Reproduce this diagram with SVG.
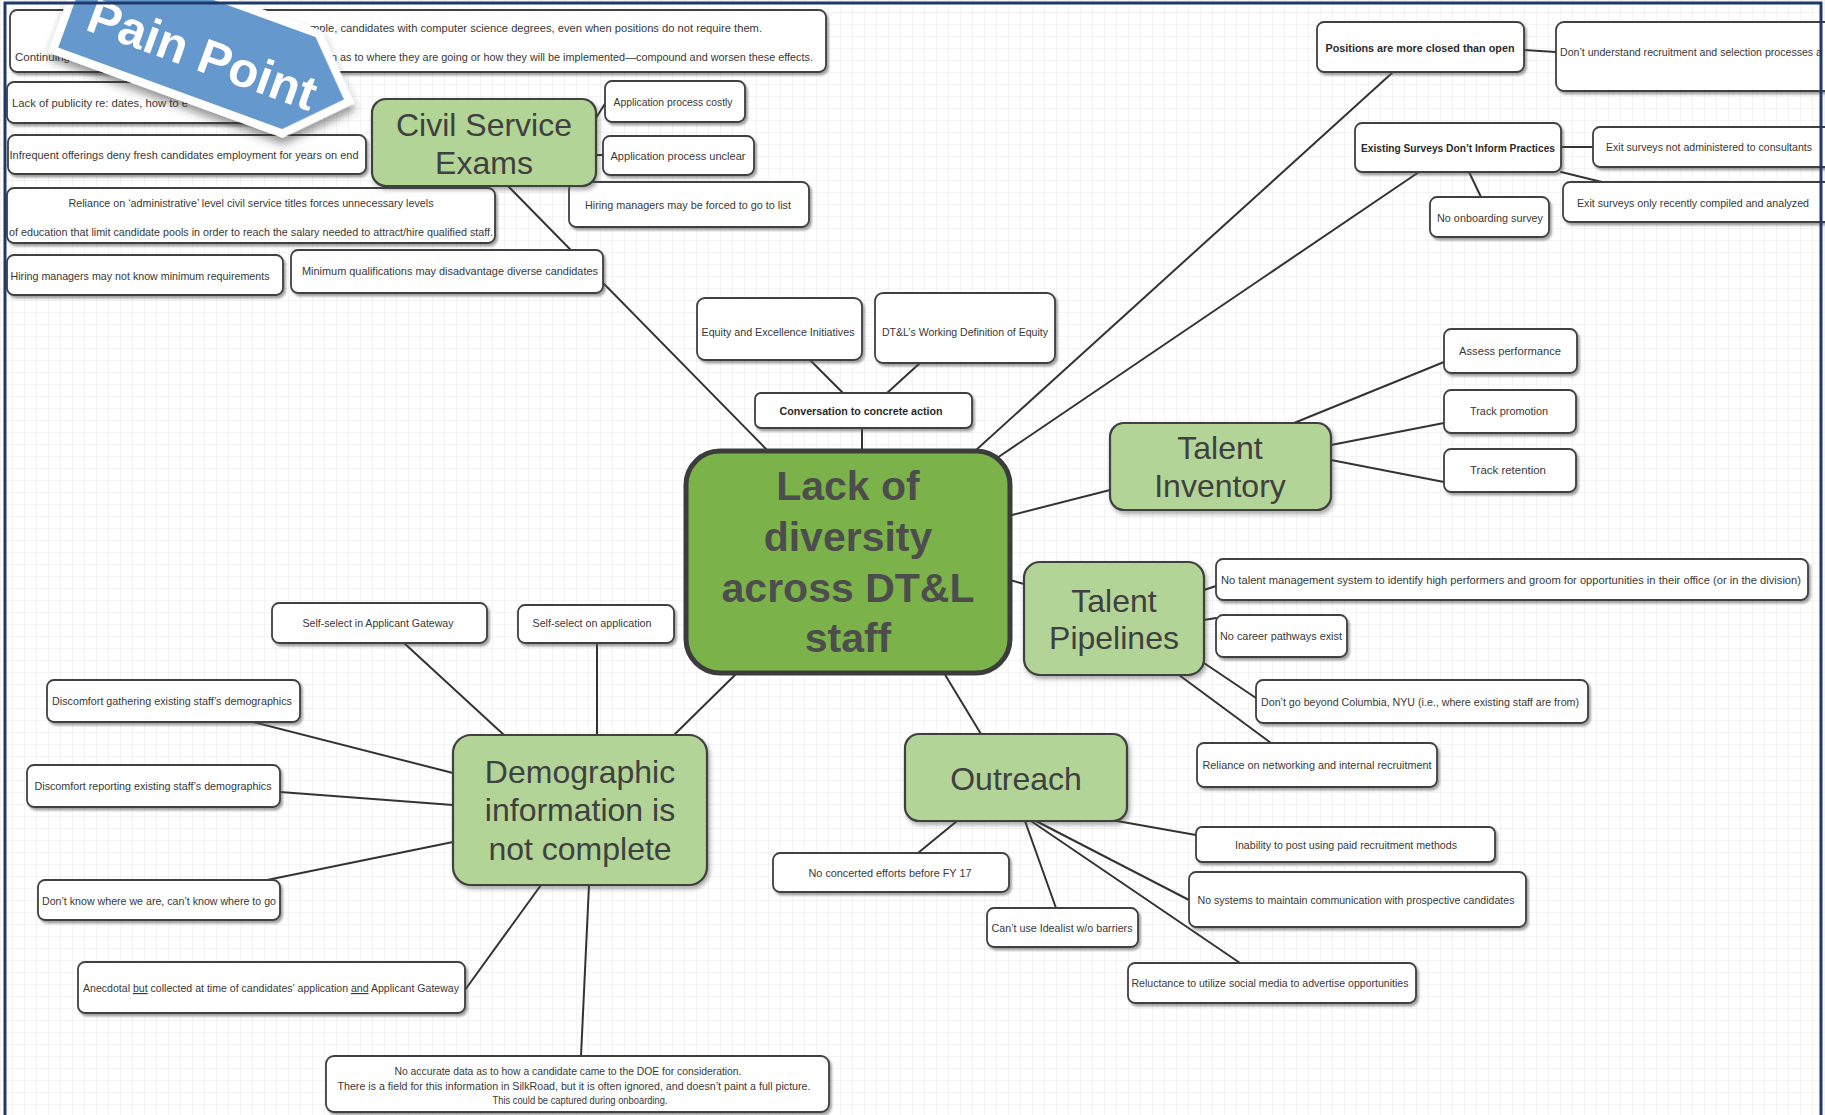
<svg xmlns="http://www.w3.org/2000/svg" width="1825" height="1115" viewBox="0 0 1825 1115">
  <defs>
    <pattern id="grid" width="12" height="12" patternUnits="userSpaceOnUse">
      <path d="M12 0H0V12" fill="none" stroke="#e9e9e9" stroke-width="1"/>
    </pattern>
    <filter id="boxShadow" x="-10%" y="-20%" width="130%" height="160%">
      <feDropShadow dx="2" dy="2.5" stdDeviation="1.2" flood-color="#555" flood-opacity="0.55"/>
    </filter>
    <filter id="nodeShadow" x="-10%" y="-10%" width="130%" height="130%">
      <feDropShadow dx="2" dy="3" stdDeviation="2" flood-color="#444" flood-opacity="0.45"/>
    </filter>
    <filter id="bannerShadow" x="-20%" y="-30%" width="150%" height="180%">
      <feDropShadow dx="3" dy="6" stdDeviation="4" flood-color="#333" flood-opacity="0.5"/>
    </filter>
    <style>
      .box { fill: #ffffff; stroke: #3f3f3f; stroke-width: 1.8; filter: url(#boxShadow); }
      .t { font-family: "Liberation Sans", Arial, sans-serif; font-size: 11.5px; fill: #383838; text-anchor: middle; }
      .ts { text-anchor: start; }
      .tb { font-weight: bold; fill: #2a2a2a; }
      .node { fill: #b3d497; stroke: #3f3f3f; stroke-width: 2.2; filter: url(#nodeShadow); }
      .nt { font-family: "Liberation Sans", Arial, sans-serif; font-size: 32px; fill: #404040; text-anchor: middle; }
      .core { fill: #7cb24a; stroke: #3c3c3c; stroke-width: 5; }
      .ct { font-family: "Liberation Sans", Arial, sans-serif; font-size: 41px; font-weight: bold; fill: #4d4d4d; text-anchor: middle; }
      .links line { stroke: #333333; stroke-width: 2; stroke-linecap: round; }
    </style>
  </defs>

  <!-- canvas -->
  <rect x="0" y="0" width="1825" height="1115" fill="#ffffff"/>
  <rect x="0" y="0" width="1825" height="1115" fill="url(#grid)"/>

  <!-- connectors -->
  <g id="connectors" class="links">
    <line x1="508" y1="186" x2="768" y2="451"/>
    <line x1="596" y1="118" x2="606" y2="102"/>
    <line x1="596" y1="155" x2="603" y2="155"/>
    <line x1="810" y1="360" x2="843" y2="393"/>
    <line x1="920" y1="363" x2="887" y2="393"/>
    <line x1="862" y1="428" x2="862" y2="451"/>
    <line x1="975" y1="451" x2="1392" y2="73"/>
    <line x1="997" y1="458" x2="1419" y2="172"/>
    <line x1="1012" y1="515" x2="1110" y2="490"/>
    <line x1="1010" y1="580" x2="1024" y2="584"/>
    <line x1="944" y1="673" x2="981" y2="734"/>
    <line x1="737" y1="673" x2="675" y2="734"/>
    <line x1="1524" y1="50" x2="1556" y2="52"/>
    <line x1="1561" y1="147" x2="1593" y2="147"/>
    <line x1="1561" y1="172" x2="1606" y2="183"/>
    <line x1="1469" y1="172" x2="1481" y2="197"/>
    <line x1="1294" y1="423" x2="1444" y2="362"/>
    <line x1="1331" y1="445" x2="1444" y2="423"/>
    <line x1="1331" y1="460" x2="1444" y2="482"/>
    <line x1="1204" y1="590" x2="1216" y2="586"/>
    <line x1="1204" y1="620" x2="1216" y2="618"/>
    <line x1="1204" y1="663" x2="1256" y2="698"/>
    <line x1="1179" y1="675" x2="1271" y2="743"/>
    <line x1="1117" y1="821" x2="1196" y2="835"/>
    <line x1="1036" y1="821" x2="1189" y2="900"/>
    <line x1="1031" y1="821" x2="1240" y2="963"/>
    <line x1="1025" y1="821" x2="1056" y2="908"/>
    <line x1="957" y1="821" x2="918" y2="853"/>
    <line x1="404" y1="643" x2="504" y2="735"/>
    <line x1="597" y1="643" x2="597" y2="735"/>
    <line x1="253" y1="722" x2="453" y2="773"/>
    <line x1="280" y1="792" x2="453" y2="805"/>
    <line x1="267" y1="880" x2="453" y2="842"/>
    <line x1="465" y1="990" x2="541" y2="885"/>
    <line x1="581" y1="1056" x2="589" y2="885"/>
  </g>

  <!-- Civil Service Exams branch -->
  <g id="civil-effects">
    <rect class="box" x="10" y="10" width="816" height="62" rx="7"/>
    <text class="t ts" x="310" y="32" textLength="452" lengthAdjust="spacingAndGlyphs">mple, candidates with computer science degrees, even when positions do not require them.</text>
    <text class="t ts" x="15" y="61">Continuing</text>
    <text class="t ts" x="331" y="61" textLength="482" lengthAdjust="spacingAndGlyphs">n as to where they are going or how they will be implemented—compound and worsen these effects.</text>
  </g>
  <g id="civil-publicity">
    <rect class="box" x="7" y="82" width="288" height="41" rx="7"/>
    <text class="t ts" x="12" y="107" textLength="176" lengthAdjust="spacingAndGlyphs">Lack of publicity re: dates, how to e</text>
  </g>
  <g id="civil-infrequent">
    <rect class="box" x="8" y="135" width="358" height="39" rx="7"/>
    <text class="t" x="184" y="159" textLength="349" lengthAdjust="spacingAndGlyphs">Infrequent offerings deny fresh candidates employment for years on end</text>
  </g>
  <g id="civil-titles">
    <rect class="box" x="7" y="188" width="488" height="55" rx="7"/>
    <text class="t" x="251" y="207" textLength="365" lengthAdjust="spacingAndGlyphs">Reliance on ‘administrative’ level civil service titles forces unnecessary levels</text>
    <text class="t" x="251" y="236" textLength="484" lengthAdjust="spacingAndGlyphs">of education that limit candidate pools in order to reach the salary needed to attract/hire qualified staff.</text>
  </g>
  <g id="civil-minreq">
    <rect class="box" x="7" y="255" width="276" height="40" rx="7"/>
    <text class="t" x="140" y="280" textLength="259" lengthAdjust="spacingAndGlyphs">Hiring managers may not know minimum requirements</text>
  </g>
  <g id="civil-minqual">
    <rect class="box" x="291" y="250" width="312" height="43" rx="7"/>
    <text class="t" x="450" y="275" textLength="296" lengthAdjust="spacingAndGlyphs">Minimum qualifications may disadvantage diverse candidates</text>
  </g>
  <g id="civil-costly">
    <rect class="box" x="605" y="81" width="140" height="41" rx="7"/>
    <text class="t" x="673" y="106" textLength="119" lengthAdjust="spacingAndGlyphs">Application process costly</text>
  </g>
  <g id="civil-unclear">
    <rect class="box" x="603" y="136" width="151" height="39" rx="7"/>
    <text class="t" x="678" y="160" textLength="135" lengthAdjust="spacingAndGlyphs">Application process unclear</text>
  </g>
  <g id="civil-list">
    <rect class="box" x="569" y="182" width="240" height="45" rx="7"/>
    <text class="t" x="688" y="209" textLength="206" lengthAdjust="spacingAndGlyphs">Hiring managers may be forced to go to list</text>
  </g>
  <g id="civil-service">
    <rect class="node" x="372" y="99" width="224" height="87" rx="14"/>
    <text class="nt" x="484" y="136">Civil Service</text>
    <text class="nt" x="484" y="174">Exams</text>
  </g>

  <!-- equity context -->
  <g id="equity-initiatives">
    <rect class="box" x="697" y="298" width="165" height="62" rx="8"/>
    <text class="t" x="778" y="336" textLength="153" lengthAdjust="spacingAndGlyphs">Equity and Excellence Initiatives</text>
  </g>
  <g id="equity-definition">
    <rect class="box" x="875" y="293" width="180" height="70" rx="8"/>
    <text class="t" x="965" y="336" textLength="166" lengthAdjust="spacingAndGlyphs">DT&amp;L’s Working Definition of Equity</text>
  </g>
  <g id="conversation">
    <rect class="box" x="755" y="393" width="217" height="35" rx="6"/>
    <text class="t tb" x="861" y="415" textLength="163" lengthAdjust="spacingAndGlyphs">Conversation to concrete action</text>
  </g>

  <!-- top right -->
  <g id="positions-closed">
    <rect class="box" x="1317" y="22" width="207" height="50" rx="7"/>
    <text class="t tb" x="1420" y="52" textLength="189" lengthAdjust="spacingAndGlyphs">Positions are more closed than open</text>
  </g>
  <g id="processes">
    <rect class="box" x="1556" y="22" width="290" height="69" rx="8"/>
    <text class="t ts" x="1560" y="56" textLength="262" lengthAdjust="spacingAndGlyphs">Don’t understand recruitment and selection processes a</text>
  </g>
  <g id="existing-surveys">
    <rect class="box" x="1355" y="123" width="206" height="49" rx="7"/>
    <text class="t tb" x="1458" y="152" textLength="194" lengthAdjust="spacingAndGlyphs">Existing Surveys Don’t Inform Practices</text>
  </g>
  <g id="exit-consultants">
    <rect class="box" x="1593" y="127" width="250" height="40" rx="7"/>
    <text class="t" x="1709" y="151" textLength="206" lengthAdjust="spacingAndGlyphs">Exit surveys not administered to consultants</text>
  </g>
  <g id="exit-recent">
    <rect class="box" x="1563" y="182" width="280" height="40" rx="7"/>
    <text class="t" x="1693" y="207" textLength="232" lengthAdjust="spacingAndGlyphs">Exit surveys only recently compiled and analyzed</text>
  </g>
  <g id="onboarding-survey">
    <rect class="box" x="1430" y="197" width="119" height="40" rx="7"/>
    <text class="t" x="1490" y="222" textLength="106" lengthAdjust="spacingAndGlyphs">No onboarding survey</text>
  </g>

  <!-- Talent Inventory branch -->
  <g id="assess-performance">
    <rect class="box" x="1444" y="329" width="133" height="44" rx="7"/>
    <text class="t" x="1510" y="355" textLength="102" lengthAdjust="spacingAndGlyphs">Assess performance</text>
  </g>
  <g id="track-promotion">
    <rect class="box" x="1444" y="390" width="132" height="43" rx="7"/>
    <text class="t" x="1509" y="415" textLength="78" lengthAdjust="spacingAndGlyphs">Track promotion</text>
  </g>
  <g id="track-retention">
    <rect class="box" x="1444" y="449" width="132" height="43" rx="7"/>
    <text class="t" x="1508" y="474" textLength="76" lengthAdjust="spacingAndGlyphs">Track retention</text>
  </g>
  <g id="talent-inventory">
    <rect class="node" x="1110" y="423" width="221" height="87" rx="14"/>
    <text class="nt" x="1220" y="459">Talent</text>
    <text class="nt" x="1220" y="497">Inventory</text>
  </g>

  <!-- Talent Pipelines branch -->
  <g id="no-talent-system">
    <rect class="box" x="1216" y="559" width="592" height="41" rx="7"/>
    <text class="t" x="1511" y="584" textLength="580" lengthAdjust="spacingAndGlyphs">No talent management system to identify high performers and groom for opportunities in their office (or in the division)</text>
  </g>
  <g id="no-career-pathways">
    <rect class="box" x="1216" y="615" width="131" height="42" rx="7"/>
    <text class="t" x="1281" y="640" textLength="122" lengthAdjust="spacingAndGlyphs">No career pathways exist</text>
  </g>
  <g id="beyond-columbia">
    <rect class="box" x="1256" y="680" width="332" height="43" rx="7"/>
    <text class="t" x="1420" y="706" textLength="318" lengthAdjust="spacingAndGlyphs">Don’t go beyond Columbia, NYU (i.e., where existing staff are from)</text>
  </g>
  <g id="internal-recruitment">
    <rect class="box" x="1197" y="743" width="240" height="44" rx="7"/>
    <text class="t" x="1317" y="769" textLength="229" lengthAdjust="spacingAndGlyphs">Reliance on networking and internal recruitment</text>
  </g>
  <g id="talent-pipelines">
    <rect class="node" x="1024" y="562" width="180" height="113" rx="16"/>
    <text class="nt" x="1114" y="612">Talent</text>
    <text class="nt" x="1114" y="649">Pipelines</text>
  </g>

  <!-- Outreach branch -->
  <g id="paid-recruitment">
    <rect class="box" x="1196" y="827" width="299" height="35" rx="6"/>
    <text class="t" x="1346" y="849" textLength="222" lengthAdjust="spacingAndGlyphs">Inability to post using paid recruitment methods</text>
  </g>
  <g id="no-communication">
    <rect class="box" x="1189" y="872" width="337" height="55" rx="7"/>
    <text class="t" x="1356" y="904" textLength="317" lengthAdjust="spacingAndGlyphs">No systems to maintain communication with prospective candidates</text>
  </g>
  <g id="social-media">
    <rect class="box" x="1128" y="963" width="288" height="40" rx="7"/>
    <text class="t" x="1270" y="987" textLength="277" lengthAdjust="spacingAndGlyphs">Reluctance to utilize social media to advertise opportunities</text>
  </g>
  <g id="idealist">
    <rect class="box" x="987" y="908" width="151" height="39" rx="7"/>
    <text class="t" x="1062" y="932" textLength="141" lengthAdjust="spacingAndGlyphs">Can’t use Idealist w/o barriers</text>
  </g>
  <g id="concerted-efforts">
    <rect class="box" x="773" y="853" width="236" height="39" rx="7"/>
    <text class="t" x="890" y="877" textLength="163" lengthAdjust="spacingAndGlyphs">No concerted efforts before FY 17</text>
  </g>
  <g id="outreach">
    <rect class="node" x="905" y="734" width="222" height="87" rx="14"/>
    <text class="nt" x="1016" y="790">Outreach</text>
  </g>

  <!-- Demographic branch -->
  <g id="self-select-gateway">
    <rect class="box" x="272" y="603" width="215" height="40" rx="7"/>
    <text class="t" x="378" y="627" textLength="151" lengthAdjust="spacingAndGlyphs">Self-select in Applicant Gateway</text>
  </g>
  <g id="self-select-application">
    <rect class="box" x="518" y="605" width="156" height="38" rx="7"/>
    <text class="t" x="592" y="627" textLength="119" lengthAdjust="spacingAndGlyphs">Self-select on application</text>
  </g>
  <g id="discomfort-gathering">
    <rect class="box" x="47" y="680" width="253" height="42" rx="7"/>
    <text class="t" x="172" y="705" textLength="240" lengthAdjust="spacingAndGlyphs">Discomfort gathering existing staff’s demographics</text>
  </g>
  <g id="discomfort-reporting">
    <rect class="box" x="27" y="765" width="253" height="42" rx="7"/>
    <text class="t" x="153" y="790" textLength="237" lengthAdjust="spacingAndGlyphs">Discomfort reporting existing staff’s demographics</text>
  </g>
  <g id="dont-know">
    <rect class="box" x="38" y="880" width="242" height="40" rx="7"/>
    <text class="t" x="159" y="905" textLength="234" lengthAdjust="spacingAndGlyphs">Don’t know where we are, can’t know where to go</text>
  </g>
  <g id="anecdotal">
    <rect class="box" x="78" y="962" width="387" height="51" rx="7"/>
    <text class="t" x="271" y="992" textLength="376" lengthAdjust="spacingAndGlyphs">Anecdotal <tspan text-decoration="underline">but</tspan> collected at time of candidates’ application <tspan text-decoration="underline">and</tspan> Applicant Gateway</text>
  </g>
  <g id="no-accurate-data">
    <rect class="box" x="326" y="1056" width="503" height="56" rx="8"/>
    <text class="t" x="568" y="1075" textLength="347" lengthAdjust="spacingAndGlyphs">No accurate data as to how a candidate came to the DOE for consideration.</text>
    <text class="t" x="574" y="1090" textLength="473" lengthAdjust="spacingAndGlyphs">There is a field for this information in SilkRoad, but it is often ignored, and doesn’t paint a full picture.</text>
    <text class="t" x="580" y="1104" textLength="175" lengthAdjust="spacingAndGlyphs">This could be captured during onboarding.</text>
  </g>
  <g id="demographic">
    <rect class="node" x="453" y="735" width="254" height="150" rx="18"/>
    <text class="nt" x="580" y="783">Demographic</text>
    <text class="nt" x="580" y="821">information is</text>
    <text class="nt" x="580" y="860">not complete</text>
  </g>

  <!-- central problem -->
  <g id="lack-of-diversity">
    <rect class="core" x="686" y="451" width="324" height="222" rx="34"/>
    <text class="ct" x="848" y="500">Lack of</text>
    <text class="ct" x="848" y="551">diversity</text>
    <text class="ct" x="848" y="602">across DT&amp;L</text>
    <text class="ct" x="848" y="652">staff</text>
  </g>

  <!-- corner banner -->
  <g id="pain-point" transform="translate(53,50) rotate(20)">
    <polygon points="0,0 244,0 296,-53 244,-106 0,-106" fill="#6598cc" stroke="#ffffff" stroke-width="8" stroke-linejoin="miter" filter="url(#bannerShadow)"/>
    <text x="142" y="-30" font-family="'Liberation Sans', Arial, sans-serif" font-size="49" font-weight="bold" fill="#ffffff" text-anchor="middle">Pain Point</text>
  </g>

  <!-- outer frame -->
  <rect x="5" y="3" width="1816" height="1130" fill="none" stroke="#1f3a68" stroke-width="3"/>
</svg>
